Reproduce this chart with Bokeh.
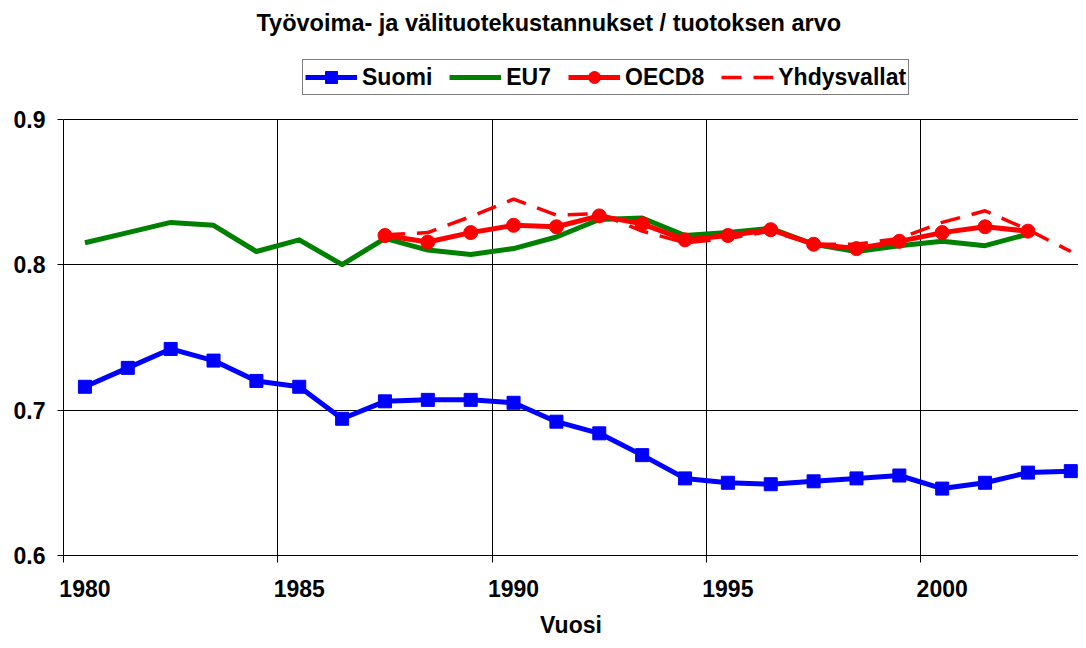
from bokeh.plotting import figure
from bokeh.models import (Range1d, FixedTicker, Legend, LegendItem, Title)
from bokeh.embed import file_html
from bokeh.resources import INLINE

years = list(range(1980, 2004))
suomi = [0.716, 0.729, 0.742, 0.734, 0.720, 0.716, 0.694, 0.706, 0.707, 0.707,
         0.705, 0.692, 0.684, 0.669, 0.653, 0.650, 0.649, 0.651, 0.653, 0.655,
         0.646, 0.650, 0.657, 0.658]
eu7_years = list(range(1980, 2003))
eu7 = [0.815, 0.822, 0.829, 0.827, 0.809, 0.817, 0.800, 0.818, 0.810, 0.807,
       0.811, 0.819, 0.831, 0.832, 0.820, 0.822, 0.825, 0.814, 0.809, 0.813,
       0.816, 0.813, 0.821]
oecd_years = list(range(1987, 2003))
oecd8 = [0.820, 0.8155, 0.822, 0.827, 0.826, 0.8335, 0.828, 0.817, 0.820, 0.824,
         0.814, 0.811, 0.816, 0.822, 0.826, 0.823]
usa_years = list(range(1987, 2004))
usa = [0.8205, 0.822, 0.833, 0.845, 0.834, 0.835, 0.823, 0.815, 0.818, 0.823,
       0.814, 0.814, 0.818, 0.829, 0.837, 0.824, 0.809]

x_labels = [1980, 1985, 1990, 1995, 2000]
x_bounds = [1979.5, 1984.5, 1989.5, 1994.5, 1999.5]
y_ticks = [0.6, 0.7, 0.8, 0.9]

FONT = "Liberation Sans"

# the frame reaches up into the legend area; the value axis itself spans 0.6-0.9
p = figure(width=1078, height=640, output_backend="svg", toolbar_location=None,
           x_range=Range1d(1979.5, 2003.18), y_range=Range1d(0.6, 0.9527),
           min_border_left=63, min_border_right=0, min_border_top=42,
           min_border_bottom=83)
p.outline_line_color = None
p.background_fill_color = "white"

p.title = Title(text="Työvoima- ja välituotekustannukset / tuotoksen arvo",
                align="left", offset=193, standoff=14,
                text_font=FONT, text_font_style="bold", text_font_size="23.5px",
                text_color="black")

# x axis
xa = p.xaxis[0]
xa.ticker = FixedTicker(ticks=x_labels, minor_ticks=x_bounds)
xa.major_tick_out = 0
xa.major_tick_in = 0
xa.minor_tick_out = 7
xa.minor_tick_in = 0
xa.minor_tick_line_color = "black"
xa.axis_line_color = "black"
xa.axis_line_width = 1
xa.major_label_text_font = FONT
xa.major_label_text_font_style = "bold"
xa.major_label_text_font_size = "23px"
xa.major_label_text_color = "black"
xa.major_label_standoff = 17
xa.axis_label = "Vuosi"
xa.axis_label_text_font = FONT
xa.axis_label_text_font_style = "bold"
xa.axis_label_text_font_size = "23px"
xa.axis_label_text_color = "black"
xa.axis_label_standoff = 12

# y axis
ya = p.yaxis[0]
ya.ticker = FixedTicker(ticks=y_ticks)
ya.bounds = (0.6, 0.9)
ya.major_label_overrides = {0.6: "0.6", 0.7: "0.7", 0.8: "0.8", 0.9: "0.9"}
ya.major_tick_out = 6
ya.major_tick_in = 0
ya.minor_tick_out = 0
ya.minor_tick_in = 0
ya.axis_line_color = "black"
ya.major_label_text_font = FONT
ya.major_label_text_font_style = "bold"
ya.major_label_text_font_size = "23px"
ya.major_label_text_color = "black"
ya.major_label_standoff = 12

p.xgrid.ticker = FixedTicker(ticks=x_bounds)
p.xgrid.cross_bounds = (0.6, 0.9)
p.xgrid.grid_line_color = "black"
p.xgrid.grid_line_width = 1
p.ygrid.ticker = FixedTicker(ticks=y_ticks)
p.ygrid.grid_line_color = "black"
p.ygrid.grid_line_width = 1

BLUE = "#0000FF"
GREEN = "#008000"
RED = "#FF0000"

s_line = p.line(years, suomi, line_color=BLUE, line_width=5, line_join="round")
s_mark = p.scatter(years, suomi, marker="square", size=13, fill_color=BLUE,
                   line_color=BLUE)
e_line = p.line(eu7_years, eu7, line_color=GREEN, line_width=5, line_join="round")
o_line = p.line(oecd_years, oecd8, line_color=RED, line_width=5, line_join="round")
o_mark = p.scatter(oecd_years, oecd8, marker="circle", size=14, fill_color=RED,
                   line_color=RED)
u_line = p.line(usa_years, usa, line_color=RED, line_width=3.5,
                line_dash="20 12")

legend = Legend(items=[
    LegendItem(label="Suomi", renderers=[s_line, s_mark]),
    LegendItem(label="EU7", renderers=[e_line]),
    LegendItem(label="OECD8", renderers=[o_line, o_mark]),
    LegendItem(label="Yhdysvallat", renderers=[u_line]),
], orientation="horizontal", location=(239, 460), glyph_width=52,
    glyph_height=30, label_height=20, label_standoff=5, spacing=17, padding=2,
    margin=0, border_line_color="black", border_line_width=1,
    label_text_font=FONT, label_text_font_style="bold",
    label_text_font_size="23px", label_text_color="black",
    background_fill_color="white", background_fill_alpha=1.0)
p.add_layout(legend, "center")

open("out.html", "w").write(file_html(p, INLINE))
